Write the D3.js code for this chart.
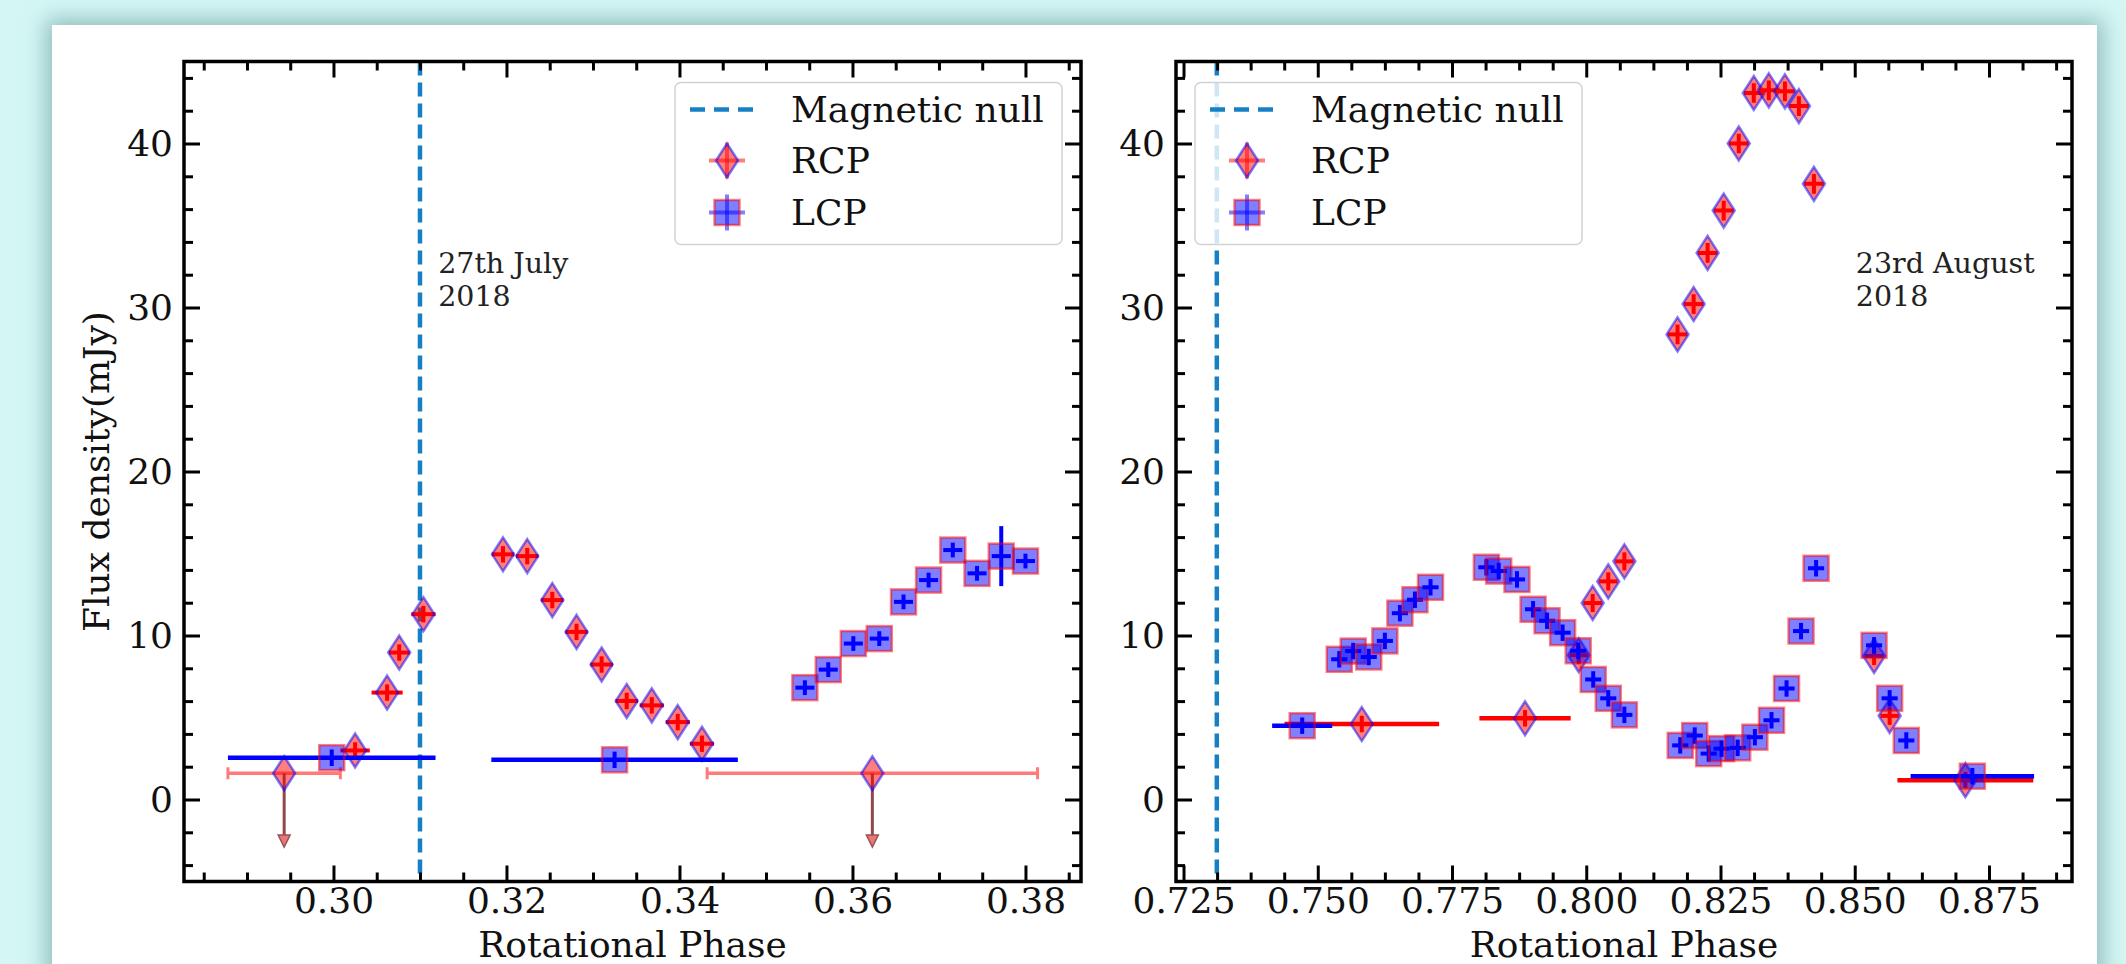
<!DOCTYPE html>
<html>
<head>
<meta charset="utf-8">
<script src="https://cdnjs.cloudflare.com/ajax/libs/d3/7.8.5/d3.min.js"></script>
<style>
  html, body { margin: 0; padding: 0; width: 2126px; height: 964px; overflow: hidden; background: #d4f7f5; }
  #card { position: absolute; left: 52px; top: 25px; width: 2045px; height: 1000px; background: #ffffff;
          box-shadow: 0 0 20px 6px rgba(80,135,135,0.5); }
  svg { position: absolute; left: 0; top: 0; }
</style>
</head>
<body>
<div id="card"></div>
<svg id="chart" width="2126" height="964"></svg>
<script>
// ------------------------- shared axis data -------------------------
const Y_DOMAIN = [-5, 45];
const Y_MAJOR = [0, 10, 20, 30, 40];
const Y_MINOR = [-4, -2, 2, 4, 6, 8, 12, 14, 16, 18, 22, 24, 26, 28, 32, 34, 36, 38, 42, 44];
const Y_LABEL = "Flux density(mJy)";
const X_LABEL = "Rotational Phase";
const LEGEND_LABELS = ["Magnetic null", "RCP", "LCP"];

// ------------------------- Panel A : 27th July 2018 -------------------------
const A_X_DOMAIN = [0.28272, 0.38642];
const A_X_MAJOR = [0.30, 0.32, 0.34, 0.36, 0.38];
const A_X_LABELS = ["0.30", "0.32", "0.34", "0.36", "0.38"];
const A_X_MINOR = [0.285, 0.29, 0.295, 0.305, 0.31, 0.315, 0.325, 0.33, 0.335, 0.345, 0.35, 0.355, 0.365, 0.37, 0.375, 0.385];
const A_NULL = 0.31;
const A_NOTE = ["27th July", "2018"];
const A_NOTE_POS = [0.3121, 30.1];

const A_RCP_PHASE = [0.3025, 0.3062, 0.3076, 0.3104, 0.3196, 0.3224, 0.3253, 0.3281, 0.3310, 0.3339, 0.3368, 0.3398, 0.3426];
const A_RCP_FLUX  = [2.99, 6.52, 8.96, 11.30, 14.95, 14.84, 12.16, 10.22, 8.23, 6.01, 5.74, 4.72, 3.40];
const A_RCP_XERR  = [0.0017, 0.0018, 0.0012, 0.0014, 0.0013, 0.0013, 0.0013, 0.0013, 0.0013, 0.0013, 0.0014, 0.0014, 0.0014];
const A_RCP_YERR  = [0.5, 0.5, 0.5, 0.5, 0.5, 0.5, 0.5, 0.5, 0.5, 0.5, 0.5, 0.5, 0.5];

const A_LCP_PHASE = [0.3545, 0.3572, 0.3601, 0.3631, 0.3659, 0.3688, 0.3716, 0.3744, 0.3772, 0.3800];
const A_LCP_FLUX  = [6.82, 7.92, 9.51, 9.81, 12.05, 13.38, 15.21, 13.79, 14.84, 14.54];
const A_LCP_XERR  = [0.0011, 0.0011, 0.0011, 0.0011, 0.0011, 0.0011, 0.0011, 0.0011, 0.0011, 0.0011];
const A_LCP_YERR  = [0.45, 0.45, 0.45, 0.45, 0.45, 0.45, 0.45, 0.45, 1.83, 0.45];

const A_RCP_AVG_PHASE = [];
const A_RCP_AVG_FLUX  = [];
const A_RCP_AVG_XERR  = [];
const A_LCP_AVG_PHASE = [0.2998, 0.3325];
const A_LCP_AVG_FLUX  = [2.55, 2.42];
const A_LCP_AVG_XERR  = [0.0120, 0.01425];

const A_ULIM_PHASE = [0.2943, 0.3623];
const A_ULIM_FLUX  = [1.6, 1.6];
const A_ULIM_XERR  = [0.0065, 0.0191];
const A_ULIM_TIP   = [-2.9, -2.9];

// ------------------------- Panel B : 23rd August 2018 -------------------------
const B_X_DOMAIN = [0.72360, 0.89046];
const B_X_MAJOR = [0.725, 0.75, 0.775, 0.80, 0.825, 0.85, 0.875];
const B_X_LABELS = ["0.725", "0.750", "0.775", "0.800", "0.825", "0.850", "0.875"];
const B_X_MINOR = [0.73125, 0.7375, 0.74375, 0.75625, 0.7625, 0.76875, 0.78125, 0.7875, 0.79375, 0.80625, 0.8125, 0.81875,
                   0.83125, 0.8375, 0.84375, 0.85625, 0.8625, 0.86875, 0.88125, 0.8875];
const B_NULL = 0.7312;
const B_NOTE = ["23rd August", "2018"];
const B_NOTE_POS = [0.8502, 30.1];

const B_RCP_PHASE = [0.7986, 0.8012, 0.8041, 0.8071, 0.8170, 0.8200, 0.8226, 0.8256, 0.8284, 0.8312, 0.8340, 0.8370, 0.8396, 0.8424, 0.8536, 0.8565];
const B_RCP_FLUX  = [8.8, 11.98, 13.3, 14.52, 28.36, 30.21, 33.33, 35.91, 40.0, 43.08, 43.24, 43.18, 42.28, 37.54, 8.75, 5.1];
const B_RCP_XERR  = [0.0017, 0.0017, 0.0017, 0.0017, 0.0018, 0.0018, 0.0018, 0.0018, 0.0018, 0.0018, 0.0018, 0.0018, 0.0018, 0.0018, 0.0017, 0.0017];
const B_RCP_YERR  = [0.55, 0.55, 0.55, 0.55, 0.6, 0.6, 0.6, 0.6, 0.6, 0.6, 0.6, 0.6, 0.6, 0.6, 0.55, 0.55];

const B_LCP_PHASE = [0.7540, 0.7566, 0.7595, 0.7625, 0.7653, 0.7681, 0.7710, 0.7814, 0.7837, 0.7871, 0.7901, 0.7927, 0.7956, 0.7985,
                     0.8013, 0.8041, 0.8071, 0.8175, 0.8202, 0.8228, 0.8252, 0.8282, 0.8314, 0.8345, 0.8373, 0.8400, 0.8428,
                     0.8536, 0.8565, 0.8596];
const B_LCP_FLUX  = [8.55, 9.05, 8.69, 9.67, 11.36, 12.18, 12.94, 14.16, 13.93, 13.42, 11.6, 10.9, 10.17, 9.07,
                     7.32, 6.17, 5.16, 3.3, 3.9, 2.8, 3.1, 3.15, 3.8, 4.83, 6.77, 10.27, 14.1,
                     9.4, 6.17, 3.6];
const B_LCP_XERR  = [0.0015, 0.0015, 0.0015, 0.0015, 0.0015, 0.0015, 0.0015, 0.0015, 0.0015, 0.0015, 0.0015, 0.0015, 0.0015, 0.0015,
                     0.0015, 0.0015, 0.0015, 0.0015, 0.0015, 0.0015, 0.0015, 0.0015, 0.0015, 0.0015, 0.0015, 0.0015, 0.0015,
                     0.0015, 0.0015, 0.0015];
const B_LCP_YERR  = [0.5, 0.5, 0.5, 0.5, 0.5, 0.5, 0.5, 0.5, 0.5, 0.5, 0.5, 0.5, 0.5, 0.5,
                     0.5, 0.5, 0.5, 0.5, 0.5, 0.5, 0.5, 0.5, 0.5, 0.5, 0.5, 0.5, 0.5,
                     0.5, 0.5, 0.5];

const B_RCP_AVG_PHASE = [0.7582, 0.7886, 0.8706];
const B_RCP_AVG_FLUX  = [4.6, 4.95, 1.18];
const B_RCP_AVG_XERR  = [0.0144, 0.0085, 0.01265];
const B_LCP_AVG_PHASE = [0.7471, 0.8719];
const B_LCP_AVG_FLUX  = [4.5, 1.42];
const B_LCP_AVG_XERR  = [0.0056, 0.0115];

const B_ULIM_PHASE = [];
const B_ULIM_FLUX  = [];
const B_ULIM_XERR  = [];
const B_ULIM_TIP   = [];

// ------------------------- styling -------------------------
const FONT = "'DejaVu Serif', 'Liberation Serif', serif";
const NULL_COLOR = "#1581c4";
const TOP = 61.5, BOTTOM = 881.5;
const FS = 36, NOTE_FS = 28.5;

const svg = d3.select("#chart");
const zipPts = (px, fx, ex, ey) => px.map((p, i) => ({ x: p, y: fx[i], xe: ex ? ex[i] : 0, ye: ey ? ey[i] : 0 }));

function addText(parent, x, y, str, size, anchor, rotate) {
  return parent.append("text")
    .attr("transform", `translate(${x},${y})${rotate ? " rotate(" + rotate + ")" : ""}`)
    .attr("text-anchor", anchor || "start")
    .attr("font-family", FONT).attr("font-size", size).attr("fill", "#111")
    .text(str);
}

function diamondPath(cx, cy) {
  return `M${cx},${cy - 17}L${cx + 11},${cy}L${cx},${cy + 17}L${cx - 11},${cy}Z`;
}
function drawDiamond(g, cx, cy) {
  g.append("path").attr("d", diamondPath(cx, cy))
    .attr("fill", "rgba(255,0,0,0.5)").attr("stroke", "rgba(0,0,255,0.5)").attr("stroke-width", 2.5);
}
function drawSquare(g, cx, cy) {
  g.append("rect").attr("x", cx - 12.5).attr("y", cy - 12.5).attr("width", 25).attr("height", 25)
    .attr("fill", "rgba(0,0,255,0.5)").attr("stroke", "rgba(255,0,0,0.5)").attr("stroke-width", 2.5);
}

function drawPanel(p) {
  const x = d3.scaleLinear().domain(p.xDomain).range([p.left, p.right]);
  const y = d3.scaleLinear().domain(Y_DOMAIN).range([BOTTOM, TOP]);
  const g = svg.append("g");

  const clipId = "clip" + p.id;
  svg.append("clipPath").attr("id", clipId).append("rect")
    .attr("x", p.left).attr("y", TOP).attr("width", p.right - p.left).attr("height", BOTTOM - TOP);
  const plot = g.append("g").attr("clip-path", `url(#${clipId})`);

  // magnetic null
  plot.append("line").attr("x1", x(p.nullX)).attr("x2", x(p.nullX)).attr("y1", TOP).attr("y2", BOTTOM)
    .attr("stroke", NULL_COLOR).attr("stroke-width", 4.5).attr("stroke-dasharray", "14,7");

  // RCP upper limits
  p.ulim.forEach(d => {
    const cx = x(d.x), cy = y(d.y);
    plot.append("line").attr("x1", x(d.x - d.xe)).attr("x2", x(d.x + d.xe)).attr("y1", cy).attr("y2", cy)
      .attr("stroke", "#ff7b7b").attr("stroke-width", 3.5);
    [d.x - d.xe, d.x + d.xe].forEach(e => {
      plot.append("line").attr("x1", x(e)).attr("x2", x(e)).attr("y1", cy - 6).attr("y2", cy + 6)
        .attr("stroke", "#ff7b7b").attr("stroke-width", 3);
    });
    const tip = y(d.tip);
    plot.append("line").attr("x1", cx).attr("x2", cx).attr("y1", cy).attr("y2", tip - 10)
      .attr("stroke", "#8e4a4a").attr("stroke-width", 3);
    plot.append("path").attr("d", `M${cx - 6},${tip - 12}L${cx + 6},${tip - 12}L${cx},${tip}Z`)
      .attr("fill", "#e87777").attr("stroke", "#9a5252").attr("stroke-width", 1.5);
    drawDiamond(plot, cx, cy);
  });

  function errBars(d, color, w) {
    const cx = x(d.x), cy = y(d.y);
    if (d.xe > 0) plot.append("line").attr("x1", x(d.x - d.xe)).attr("x2", x(d.x + d.xe)).attr("y1", cy).attr("y2", cy)
      .attr("stroke", color).attr("stroke-width", w);
    if (d.ye > 0) plot.append("line").attr("x1", cx).attr("x2", cx).attr("y1", y(d.y - d.ye)).attr("y2", y(d.y + d.ye))
      .attr("stroke", color).attr("stroke-width", w);
  }

  p.rcp.forEach(d => { errBars(d, "#ff0000", 4); drawDiamond(plot, x(d.x), y(d.y)); });
  p.rcpAvg.forEach(d => { errBars(d, "#ff0000", 4.5); errBars({ x: d.x, y: d.y, xe: 0, ye: 0.5 }, "#ff0000", 4); drawDiamond(plot, x(d.x), y(d.y)); });
  p.lcp.forEach(d => { errBars(d, "#0000ff", 4); drawSquare(plot, x(d.x), y(d.y)); });
  p.lcpAvg.forEach(d => { errBars(d, "#0000ff", 4.5); errBars({ x: d.x, y: d.y, xe: 0, ye: 0.5 }, "#0000ff", 4); drawSquare(plot, x(d.x), y(d.y)); });

  // annotation
  addText(g, x(p.notePos[0]), y(p.notePos[1]) - 33, p.note[0], NOTE_FS).attr("fill", "#222");
  addText(g, x(p.notePos[0]), y(p.notePos[1]), p.note[1], NOTE_FS).attr("fill", "#222");

  // axes
  function styleAxis(a, w) {
    a.select(".domain").remove();
    a.selectAll(".tick line").attr("stroke", "#000").attr("stroke-width", w);
    a.selectAll(".tick text").attr("font-family", FONT).attr("font-size", FS).attr("fill", "#111");
    a.attr("font-family", null).attr("font-size", null);
  }
  const fmt = v => p.xLabels[p.xMajor.indexOf(v)];
  styleAxis(g.append("g").attr("transform", `translate(0,${BOTTOM})`)
    .call(d3.axisBottom(x).tickValues(p.xMajor).tickFormat(fmt).tickSize(-16).tickSizeOuter(0).tickPadding(6)), 3);
  styleAxis(g.append("g").attr("transform", `translate(0,${BOTTOM})`)
    .call(d3.axisBottom(x).tickValues(p.xMinor).tickFormat("").tickSize(-9).tickSizeOuter(0)), 3);
  styleAxis(g.append("g").attr("transform", `translate(0,${TOP})`)
    .call(d3.axisTop(x).tickValues(p.xMajor).tickFormat("").tickSize(-16).tickSizeOuter(0)), 3);
  styleAxis(g.append("g").attr("transform", `translate(0,${TOP})`)
    .call(d3.axisTop(x).tickValues(p.xMinor).tickFormat("").tickSize(-9).tickSizeOuter(0)), 3);
  styleAxis(g.append("g").attr("transform", `translate(${p.left},0)`)
    .call(d3.axisLeft(y).tickValues(Y_MAJOR).tickFormat(d3.format("d")).tickSize(-16).tickSizeOuter(0).tickPadding(11)), 3);
  styleAxis(g.append("g").attr("transform", `translate(${p.left},0)`)
    .call(d3.axisLeft(y).tickValues(Y_MINOR).tickFormat("").tickSize(-9).tickSizeOuter(0)), 3);
  styleAxis(g.append("g").attr("transform", `translate(${p.right},0)`)
    .call(d3.axisRight(y).tickValues(Y_MAJOR).tickFormat("").tickSize(-16).tickSizeOuter(0)), 3);
  styleAxis(g.append("g").attr("transform", `translate(${p.right},0)`)
    .call(d3.axisRight(y).tickValues(Y_MINOR).tickFormat("").tickSize(-9).tickSizeOuter(0)), 3);

  // frame
  g.append("rect").attr("x", p.left).attr("y", TOP).attr("width", p.right - p.left).attr("height", BOTTOM - TOP)
    .attr("fill", "none").attr("stroke", "#000").attr("stroke-width", 3.5);

  // axis labels
  addText(g, (p.left + p.right) / 2, 957, X_LABEL, FS, "middle");
  if (p.yLabel) addText(g, 109, (TOP + BOTTOM) / 2, Y_LABEL, FS, "middle", -90);

  // legend
  const L = p.legendLeft, T = 82.5;
  const lg = g.append("g");
  lg.append("rect").attr("x", L).attr("y", T).attr("width", 387).attr("height", 162).attr("rx", 6)
    .attr("fill", "rgba(255,255,255,0.8)").attr("stroke", "#d2d2d2").attr("stroke-width", 1.5);
  lg.append("line").attr("x1", L + 15).attr("x2", L + 87).attr("y1", T + 27).attr("y2", T + 27)
    .attr("stroke", NULL_COLOR).attr("stroke-width", 4.5).attr("stroke-dasharray", "15,9");
  const hx = L + 52;
  lg.append("line").attr("x1", hx - 18).attr("x2", hx + 18).attr("y1", T + 78).attr("y2", T + 78)
    .attr("stroke", "rgba(255,0,0,0.5)").attr("stroke-width", 4);
  lg.append("line").attr("x1", hx).attr("x2", hx).attr("y1", T + 60).attr("y2", T + 96)
    .attr("stroke", "rgba(255,0,0,0.5)").attr("stroke-width", 4);
  drawDiamond(lg, hx, T + 78);
  lg.append("line").attr("x1", hx - 18).attr("x2", hx + 18).attr("y1", T + 130).attr("y2", T + 130)
    .attr("stroke", "rgba(0,0,255,0.5)").attr("stroke-width", 4);
  lg.append("line").attr("x1", hx).attr("x2", hx).attr("y1", T + 112).attr("y2", T + 148)
    .attr("stroke", "rgba(0,0,255,0.5)").attr("stroke-width", 4);
  drawSquare(lg, hx, T + 130);
  [27, 78, 130].forEach((dy, i) => addText(lg, L + 116, T + dy + 12, LEGEND_LABELS[i], FS));
}

drawPanel({
  id: "A", left: 184, right: 1081, xDomain: A_X_DOMAIN, xMajor: A_X_MAJOR, xLabels: A_X_LABELS, xMinor: A_X_MINOR,
  nullX: A_NULL, note: A_NOTE, notePos: A_NOTE_POS, yLabel: true, legendLeft: 675,
  rcp: zipPts(A_RCP_PHASE, A_RCP_FLUX, A_RCP_XERR, A_RCP_YERR),
  lcp: zipPts(A_LCP_PHASE, A_LCP_FLUX, A_LCP_XERR, A_LCP_YERR),
  rcpAvg: zipPts(A_RCP_AVG_PHASE, A_RCP_AVG_FLUX, A_RCP_AVG_XERR, null),
  lcpAvg: zipPts(A_LCP_AVG_PHASE, A_LCP_AVG_FLUX, A_LCP_AVG_XERR, null),
  ulim: A_ULIM_PHASE.map((v, i) => ({ x: v, y: A_ULIM_FLUX[i], xe: A_ULIM_XERR[i], tip: A_ULIM_TIP[i] }))
});
drawPanel({
  id: "B", left: 1176, right: 2072, xDomain: B_X_DOMAIN, xMajor: B_X_MAJOR, xLabels: B_X_LABELS, xMinor: B_X_MINOR,
  nullX: B_NULL, note: B_NOTE, notePos: B_NOTE_POS, yLabel: false, legendLeft: 1195,
  rcp: zipPts(B_RCP_PHASE, B_RCP_FLUX, B_RCP_XERR, B_RCP_YERR),
  lcp: zipPts(B_LCP_PHASE, B_LCP_FLUX, B_LCP_XERR, B_LCP_YERR),
  rcpAvg: zipPts(B_RCP_AVG_PHASE, B_RCP_AVG_FLUX, B_RCP_AVG_XERR, null),
  lcpAvg: zipPts(B_LCP_AVG_PHASE, B_LCP_AVG_FLUX, B_LCP_AVG_XERR, null),
  ulim: B_ULIM_PHASE.map((v, i) => ({ x: v, y: B_ULIM_FLUX[i], xe: B_ULIM_XERR[i], tip: B_ULIM_TIP[i] }))
});
</script>
</body>
</html>
